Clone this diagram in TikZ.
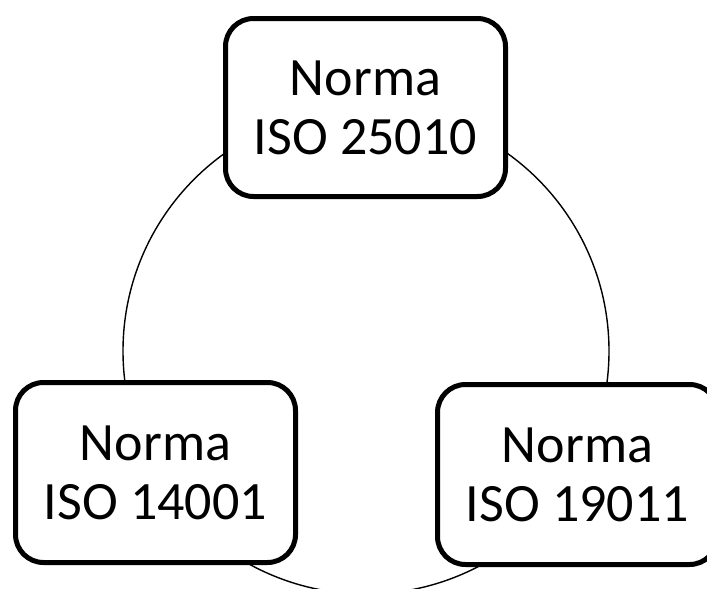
\documentclass[tikz,border=0pt]{standalone}
\usepackage{fontspec}
\setmainfont{Carlito}
\begin{document}
\begin{tikzpicture}[x=1pt,y=-1pt,
  normbox/.style={draw=black, fill=white, line width=5pt, rounded corners=28pt,
    minimum width=280pt, minimum height=180pt, inner sep=0pt, align=center,
    font=\fontsize{54}{59}\selectfont},
  ring/.style={draw=black, line width=1.4pt}]
\useasboundingbox (0,0) rectangle (707,589);
\clip (0,0) rectangle (707,589);
\fill[white] (0,0) rectangle (707,589);
\coordinate (c) at (366,351);
\draw[ring] (c) circle[radius=243];
\node[normbox, minimum height=178pt] (top) at (365.5,107.5) {Norma\\ISO 25010};
\node[normbox] (left) at (155.5,472.5) {Norma\\ISO 14001};
\node[normbox] (right) at (577.5,474.5) {Norma\\ISO 19011};
\end{tikzpicture}
\end{document}
